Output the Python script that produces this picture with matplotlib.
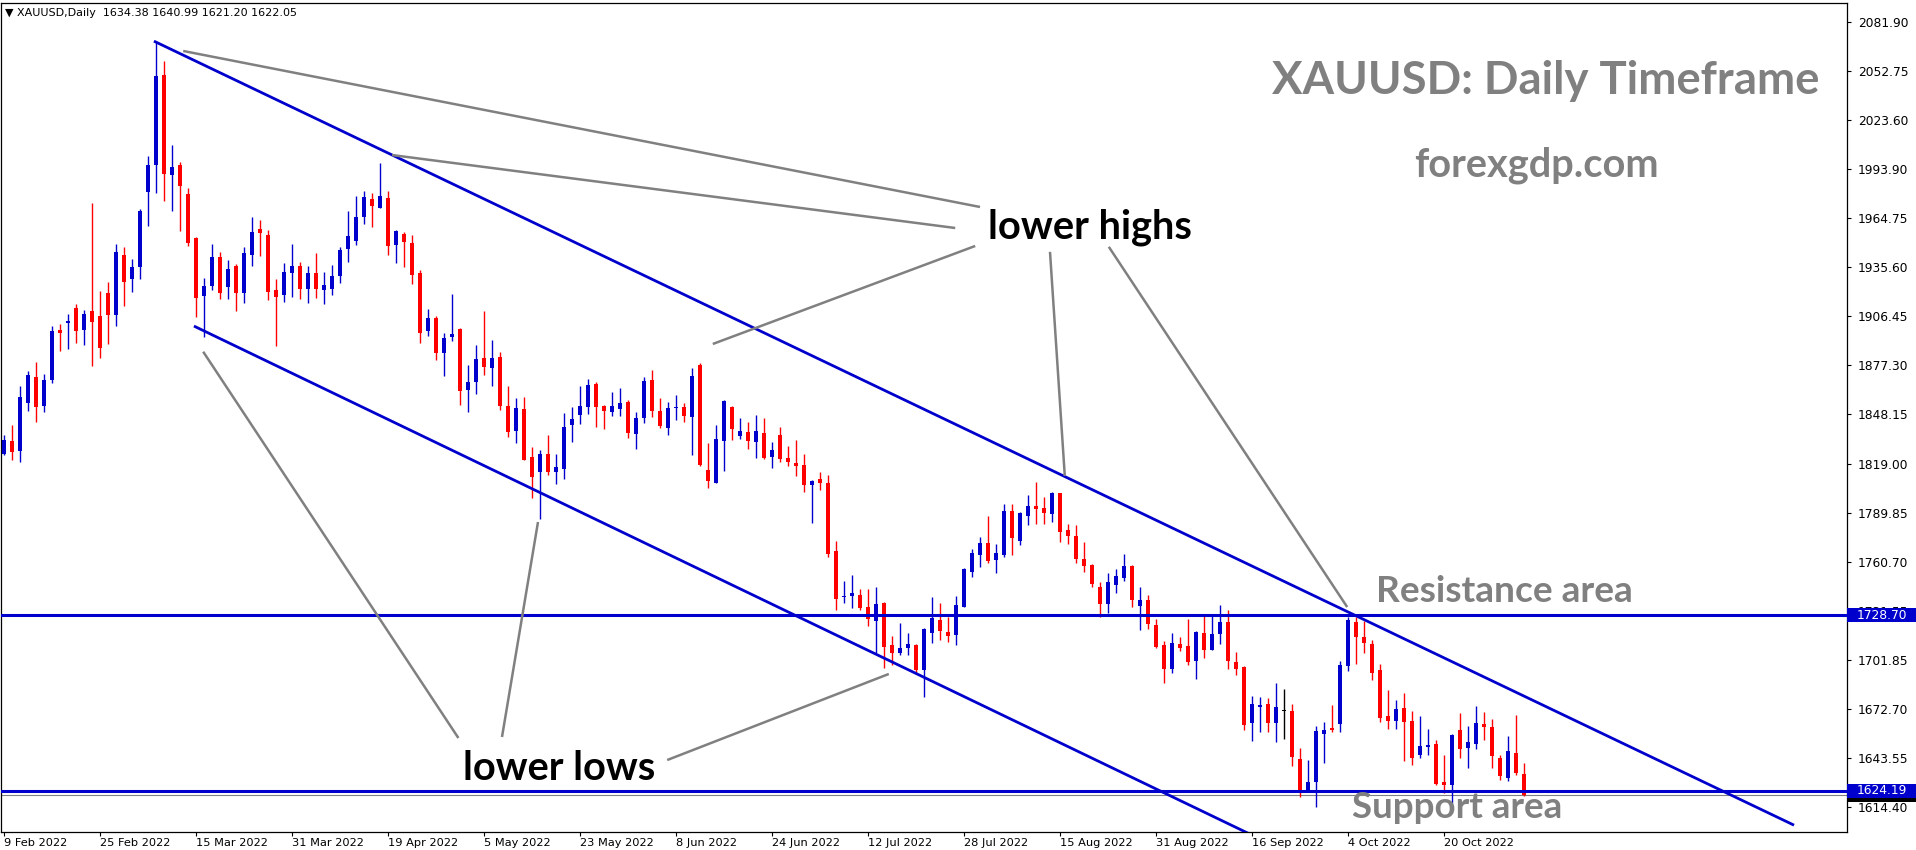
import numpy as np
import matplotlib.pyplot as plt
from matplotlib.patches import Rectangle
from matplotlib.transforms import blended_transform_factory

# daily bars, 9 Feb 2022 .. 28 Oct 2022
opens = [1824.7, 1832.2, 1826.6, 1855.2, 1870.3, 1853.4, 1868.7, 1898.4, 1902.4, 1911.5,
         1898.6, 1909.7, 1906.8, 1920.2, 1907.6, 1942.8, 1928.6, 1936.1, 1980.7, 1996.6,
         2049.9, 1990.8, 1996.6, 1979.3, 1953.2, 1918.9, 1924.6, 1941.9, 1924.2, 1936.5,
         1920.6, 1943.2, 1958.5, 1954.9, 1922.2, 1919.4, 1932.5, 1936.5, 1923.0, 1932.3,
         1922.2, 1923.0, 1930.7, 1946.8, 1951.6, 1965.8, 1976.4, 1971.2, 1976.9, 1949.2,
         1955.5, 1950.2, 1932.3, 1898.0, 1905.6, 1884.9, 1894.5, 1899.0, 1862.9, 1867.7,
         1881.6, 1876.0, 1882.4, 1853.2, 1838.5, 1851.4, 1822.9, 1813.7, 1824.6, 1814.1,
         1815.9, 1841.7, 1848.1, 1852.8, 1866.3, 1853.2, 1849.8, 1851.6, 1855.6, 1836.8,
         1846.3, 1868.7, 1850.2, 1840.3, 1852.2, 1852.6, 1846.9, 1877.6, 1815.1, 1807.6,
         1832.6, 1852.6, 1835.6, 1837.7, 1832.0, 1837.2, 1823.1, 1836.0, 1822.3, 1819.3,
         1818.1, 1806.4, 1809.8, 1807.4, 1767.0, 1739.8, 1740.4, 1740.8, 1733.9, 1725.5,
         1735.8, 1711.3, 1706.5, 1709.5, 1711.1, 1696.4, 1718.0, 1726.1, 1718.8, 1717.2,
         1733.9, 1754.7, 1764.8, 1771.9, 1761.8, 1764.8, 1790.8, 1773.1, 1787.8, 1793.9,
         1792.3, 1789.1, 1801.5, 1779.5, 1775.9, 1762.2, 1758.6, 1745.5, 1735.6, 1746.9,
         1751.1, 1758.0, 1734.4, 1737.8, 1723.1, 1711.0, 1697.0, 1711.8, 1710.4, 1701.7,
         1718.2, 1708.3, 1717.8, 1724.7, 1701.1, 1698.0, 1664.8, 1674.4, 1675.9, 1664.8,
         1672.0, 1672.0, 1643.2, 1623.8, 1629.7, 1658.3, 1661.7, 1664.2, 1698.7, 1724.7,
         1715.8, 1711.6, 1696.2, 1668.8, 1666.0, 1673.6, 1665.8, 1645.8, 1650.6, 1652.1,
         1629.5, 1628.0, 1660.5, 1649.8, 1652.1, 1664.0, 1662.3, 1643.8, 1632.1, 1646.8,
         1634.38]
highs = [1836.0, 1841.9, 1865.1, 1874.2, 1879.4, 1872.3, 1900.8, 1902.0, 1907.9, 1913.9,
         1910.3, 1974.0, 1921.6, 1927.0, 1949.6, 1947.8, 1940.7, 1970.2, 2001.9, 2070.0,
         2058.5, 2008.5, 1998.4, 1982.9, 1954.0, 1929.4, 1949.6, 1945.0, 1940.3, 1937.7,
         1947.8, 1965.7, 1963.9, 1957.9, 1929.0, 1938.3, 1949.6, 1938.9, 1936.5, 1944.2,
         1933.1, 1937.1, 1947.6, 1969.4, 1978.1, 1981.1, 1979.9, 1997.8, 1981.1, 1957.9,
         1956.5, 1954.7, 1934.1, 1910.9, 1906.7, 1896.6, 1919.8, 1899.6, 1877.6, 1889.5,
         1909.7, 1892.5, 1885.3, 1865.1, 1858.0, 1858.6, 1828.8, 1827.0, 1836.0, 1824.8,
         1849.0, 1852.6, 1865.1, 1869.5, 1867.5, 1853.8, 1861.7, 1863.9, 1857.0, 1849.8,
         1870.3, 1874.8, 1858.2, 1855.6, 1859.7, 1855.0, 1875.8, 1878.8, 1831.4, 1841.9,
         1856.8, 1853.2, 1846.1, 1843.7, 1847.9, 1846.1, 1831.8, 1840.7, 1829.4, 1833.0,
         1824.5, 1809.2, 1814.0, 1812.4, 1772.9, 1749.3, 1752.7, 1744.6, 1744.6, 1745.6,
         1736.6, 1716.6, 1724.1, 1718.2, 1711.5, 1721.0, 1739.6, 1736.0, 1727.9, 1740.2,
         1756.9, 1768.2, 1775.5, 1788.0, 1771.3, 1795.1, 1795.1, 1790.4, 1800.5, 1808.2,
         1799.3, 1802.3, 1801.7, 1783.2, 1782.4, 1772.5, 1759.2, 1748.5, 1753.9, 1756.3,
         1765.2, 1758.6, 1745.7, 1740.8, 1726.3, 1713.4, 1718.2, 1716.0, 1726.5, 1719.4,
         1728.1, 1728.1, 1734.8, 1731.9, 1706.9, 1698.6, 1680.7, 1680.1, 1679.5, 1688.4,
         1684.9, 1675.9, 1649.8, 1642.6, 1662.9, 1665.2, 1675.3, 1701.5, 1727.9, 1727.9,
         1725.3, 1714.2, 1699.7, 1684.3, 1678.3, 1682.7, 1671.8, 1668.8, 1661.3, 1654.5,
         1645.6, 1658.1, 1670.6, 1662.9, 1674.8, 1671.2, 1667.0, 1645.6, 1657.1, 1669.4,
         1640.99]
lows = [1824.1, 1821.1, 1820.1, 1850.4, 1843.9, 1849.8, 1867.1, 1886.1, 1886.9, 1890.9,
        1889.3, 1877.2, 1882.0, 1890.3, 1900.6, 1912.9, 1921.2, 1929.0, 1960.5, 1980.1,
        1975.4, 1969.4, 1957.5, 1948.6, 1906.4, 1894.5, 1922.2, 1917.1, 1917.1, 1909.9,
        1914.7, 1936.7, 1942.6, 1916.5, 1889.1, 1915.3, 1918.3, 1917.1, 1914.7, 1917.7,
        1913.9, 1919.2, 1926.6, 1939.1, 1949.0, 1961.7, 1959.9, 1970.8, 1943.0, 1938.3,
        1936.1, 1926.0, 1890.9, 1895.0, 1880.6, 1871.1, 1891.9, 1853.8, 1849.8, 1860.5,
        1871.9, 1865.3, 1851.0, 1835.0, 1831.4, 1820.9, 1798.7, 1786.2, 1812.4, 1807.0,
        1810.0, 1832.0, 1842.7, 1848.7, 1840.9, 1839.7, 1847.4, 1847.4, 1834.4, 1827.8,
        1842.9, 1846.9, 1840.3, 1836.2, 1844.9, 1843.9, 1824.2, 1817.5, 1804.6, 1807.2,
        1814.8, 1833.2, 1833.6, 1827.8, 1822.5, 1821.9, 1816.5, 1820.1, 1817.7, 1811.8,
        1802.3, 1783.8, 1803.2, 1763.6, 1732.1, 1736.2, 1732.9, 1731.9, 1722.6, 1706.1,
        1697.6, 1699.0, 1705.3, 1705.3, 1694.2, 1680.3, 1712.4, 1714.2, 1713.0, 1711.3,
        1733.4, 1751.7, 1757.7, 1760.0, 1754.1, 1763.2, 1764.8, 1770.7, 1782.6, 1783.2,
        1783.2, 1784.4, 1772.5, 1770.9, 1760.0, 1754.7, 1745.3, 1727.5, 1730.3, 1742.2,
        1749.3, 1733.8, 1720.0, 1720.8, 1709.5, 1688.6, 1694.4, 1707.7, 1699.3, 1691.0,
        1703.5, 1707.8, 1711.8, 1697.0, 1693.4, 1660.3, 1654.1, 1659.5, 1659.5, 1653.5,
        1655.3, 1639.3, 1620.8, 1623.3, 1614.9, 1641.0, 1659.3, 1659.5, 1695.4, 1699.9,
        1706.5, 1690.4, 1665.4, 1661.3, 1661.3, 1642.2, 1639.9, 1644.0, 1645.8, 1628.0,
        1622.8, 1617.2, 1644.0, 1638.1, 1649.4, 1654.7, 1638.1, 1630.9, 1630.3, 1633.9,
        1621.20]
closes = [1833.0, 1826.0, 1858.4, 1871.7, 1852.8, 1868.7, 1897.8, 1896.4, 1903.8, 1898.0,
          1907.9, 1903.4, 1887.5, 1907.4, 1944.8, 1927.2, 1935.7, 1969.2, 1996.6, 2049.5,
          1991.4, 1995.6, 1984.3, 1950.4, 1917.3, 1924.6, 1941.9, 1920.2, 1934.7, 1920.6,
          1944.2, 1956.7, 1956.3, 1921.2, 1918.3, 1932.9, 1936.5, 1923.0, 1932.3, 1923.0,
          1925.2, 1930.5, 1946.0, 1954.3, 1965.6, 1977.5, 1972.4, 1977.9, 1948.6, 1957.5,
          1951.0, 1931.3, 1896.8, 1905.6, 1884.9, 1893.7, 1896.0, 1862.3, 1867.5, 1881.2,
          1876.6, 1881.6, 1853.4, 1838.0, 1852.0, 1821.3, 1811.2, 1824.6, 1814.1, 1816.9,
          1840.7, 1845.5, 1853.2, 1865.7, 1852.8, 1850.4, 1853.2, 1855.0, 1837.4, 1846.1,
          1868.3, 1850.4, 1841.5, 1852.0, 1852.6, 1847.4, 1871.1, 1818.3, 1808.8, 1833.6,
          1856.2, 1839.7, 1838.3, 1832.6, 1838.3, 1822.3, 1827.0, 1821.9, 1820.1, 1817.7,
          1806.4, 1808.6, 1807.6, 1765.4, 1738.6, 1740.2, 1742.2, 1733.3, 1726.3, 1735.4,
          1710.1, 1706.5, 1709.3, 1711.7, 1696.2, 1720.6, 1727.3, 1719.2, 1716.6, 1734.9,
          1756.3, 1766.0, 1771.9, 1761.2, 1766.0, 1790.8, 1774.9, 1789.8, 1793.9, 1791.7,
          1789.3, 1801.5, 1778.5, 1775.7, 1762.0, 1758.2, 1747.3, 1735.4, 1748.5, 1752.1,
          1758.0, 1738.0, 1737.8, 1723.7, 1709.9, 1697.0, 1712.2, 1709.5, 1701.1, 1719.0,
          1708.3, 1717.6, 1724.7, 1701.7, 1697.0, 1663.6, 1675.9, 1675.3, 1664.8, 1674.2,
          1672.0, 1644.6, 1624.4, 1629.5, 1659.9, 1660.5, 1660.7, 1699.1, 1725.9, 1716.0,
          1712.4, 1694.6, 1667.8, 1666.0, 1673.0, 1665.4, 1644.0, 1651.0, 1651.6, 1628.6,
          1628.0, 1657.5, 1649.4, 1653.3, 1664.6, 1662.5, 1645.2, 1633.3, 1648.0, 1635.1,
          1622.05]

date_labels = ['9 Feb 2022', '25 Feb 2022', '15 Mar 2022', '31 Mar 2022', '19 Apr 2022',
               '5 May 2022', '23 May 2022', '8 Jun 2022', '24 Jun 2022', '12 Jul 2022',
               '28 Jul 2022', '15 Aug 2022', '31 Aug 2022', '16 Sep 2022', '4 Oct 2022',
               '20 Oct 2022']
date_pos = list(range(0, 181, 12))

price_labels = ['2081.90', '2052.75', '2023.60', '1993.90', '1964.75', '1935.60', '1906.45',
                '1877.30', '1848.15', '1819.00', '1789.85', '1760.70', '1731.55', '1701.85',
                '1672.70', '1643.55', '1614.40']

resistance = 1728.70
support = 1624.19
bid = 1622.05

# trend lines: (bar index, price) pairs
upper_channel = [(18.9, 2069.9), (223.6, 1604.2)]
lower_channel = [(23.9, 1900.4), (162.0, 1584.2)]
pointers = [
    [(22.4, 2064.4), (122.0, 1971.6)],
    [(48.5, 2002.5), (118.9, 1959.1)],
    [(88.6, 1890.1), (121.4, 1948.4)],
    [(130.75, 1944.9), (132.6, 1811.6)],
    [(138.1, 1947.9), (167.9, 1733.6)],
    [(24.9, 1885.5), (56.8, 1655.7)],
    [(66.75, 1784.2), (62.25, 1656.3)],
    [(82.9, 1642.6), (110.6, 1693.8)],
]

BLUE = '#0000CC'
RED = '#FF0000'
GRAY = '#808080'

W, H = 1916, 850
fig = plt.figure(figsize=(W / 100, H / 100), dpi=100)
ax = fig.add_axes([1 / W, 1 - 832 / H, 1846 / W, 829 / H])
ax.set_xlim(-0.375, 230.375)
ax.set_ylim(1599.79, 2092.94)

o = np.array(opens)
h = np.array(highs)
l = np.array(lows)
c = np.array(closes)
x = np.arange(len(o))
cols = np.where(c > o, BLUE, np.where(c < o, RED, 'black'))

ax.vlines(x, l, h, colors=cols, linewidth=1.0, zorder=3)
body = np.maximum(np.abs(c - o), 0.6)
ax.bar(x, body, bottom=np.minimum(o, c), width=0.62, color=cols, linewidth=0, zorder=3)

# horizontal levels
ax.axhline(bid, color=GRAY, lw=0.8, zorder=2)
ax.axhline(resistance, color=BLUE, lw=2.2, zorder=4)
ax.axhline(support, color=BLUE, lw=2.2, zorder=4)

for line in [upper_channel, lower_channel]:
    ax.plot([p[0] for p in line], [p[1] for p in line], color=BLUE, lw=2.0, zorder=4)
for line in pointers:
    ax.plot([p[0] for p in line], [p[1] for p in line], color=GRAY, lw=1.8, zorder=4,
            solid_capstyle='butt')

# axes styling, MT4 look
for s in ax.spines.values():
    s.set_color('black')
    s.set_linewidth(0.9)
ax.yaxis.tick_right()
ax.set_yticks([float(v) for v in price_labels])
ax.set_yticklabels(price_labels)
ax.tick_params(axis='y', length=3, width=0.8, pad=5, labelsize=8.8)
ax.set_xticks(date_pos)
ax.set_xticklabels(date_labels, ha='left')
ax.tick_params(axis='x', length=3, width=0.8, pad=1.5, labelsize=8.2)

# price boxes on the scale
trans = blended_transform_factory(ax.transAxes, ax.transData)
ppx = (2092.94 - 1599.79) / 829.0
ax.add_patch(Rectangle((1.0, bid - 7 * ppx), 69 / 1846, 14 * ppx, transform=trans,
                       fc='black', ec='none', clip_on=False, zorder=5))
for val, txt in [(support, '1624.19'), (resistance, '1728.70')]:
    ax.add_patch(Rectangle((1.0, val - 7 * ppx), 69 / 1846, 14 * ppx, transform=trans,
                           fc=BLUE, ec='none', clip_on=False, zorder=6))
    ax.text(1.0 + 10 / 1846, val, txt, transform=trans, color='white', fontsize=8.8,
            va='center', ha='left', clip_on=False, zorder=7)

fig.text(5 / W, 1 - 13 / H, '\u25bc XAUUSD,Daily  1634.38 1640.99 1621.20 1622.05',
         fontsize=8, va='center', ha='left')

renderer = fig.canvas.get_renderer()


def put_text(s, xp, yp, width, ha, color):
    t = fig.text(xp / W, 1 - yp / H, s, ha=ha, va='baseline', fontsize=30,
                 family='Lato', weight='bold', color=color, zorder=8)
    w = t.get_window_extent(renderer).width
    t.set_fontsize(30 * width / w)
    return t


put_text('XAUUSD: Daily Timeframe', 1546, 94, 547, 'center', GRAY)
put_text('forexgdp.com', 1536, 176, 244, 'center', GRAY)
put_text('lower highs', 988, 238, 204, 'left', 'black')
put_text('lower lows', 463, 780, 192, 'left', 'black')
put_text('Resistance area', 1376, 602, 256, 'left', GRAY)
put_text('Support area', 1352, 818, 210, 'left', GRAY)

fig.savefig('out.png', dpi=100)
